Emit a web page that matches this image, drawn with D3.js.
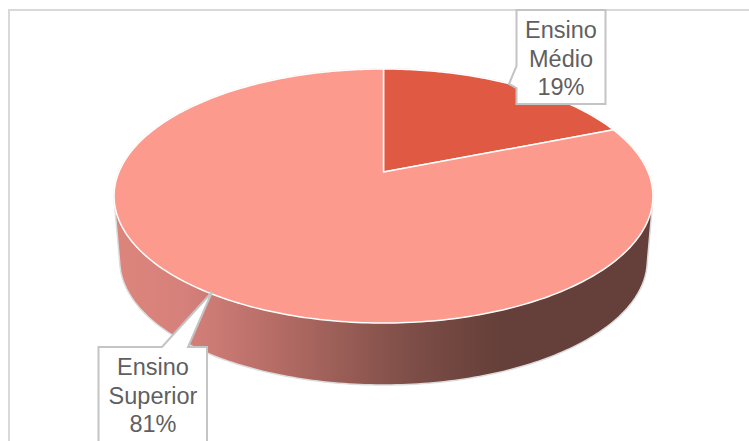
<!DOCTYPE html>
<html><head><meta charset="utf-8">
<script src="https://cdn.jsdelivr.net/npm/d3@7"></script>
<style>html,body{margin:0;padding:0;background:#fff}svg{display:block}</style>
</head><body><svg id="c" width="749" height="441"></svg>
<script>
const categories = ["Ensino Médio", "Ensino Superior"];
const values = [19, 81];
const sliceColors = ["#e05a43", "#fd9a8e"];
const labelLines = [["Ensino", "Médio", "19%"], ["Ensino", "Superior", "81%"]];

const svg = d3.select("#c");
const defs = svg.append("defs");
const grad = defs.append("linearGradient").attr("id", "wall").attr("gradientUnits", "userSpaceOnUse")
  .attr("x1", 118).attr("x2", 650).attr("y1", 0).attr("y2", 0);
[[0, "#dc857c"], [0.13, "#d5807a"], [0.3, "#b46c65"], [0.55, "#7d4e47"], [0.72, "#653f39"], [1, "#653f39"]]
  .forEach(d => grad.append("stop").attr("offset", d[0]).attr("stop-color", d[1]));

// chart frame: only the top and left edges fall inside the picture
svg.append("path").attr("d", "M9,441V10H749").attr("fill", "none")
  .attr("stroke", "#d9d9d9").attr("stroke-width", 2);

// perspective projection of a unit disc onto the page
const k = 0.189;
function project(theta, r, o) {
  const x = r * Math.sin(theta), v = r * Math.cos(theta), den = 1 + k * v;
  return [o.cx + o.a * x / den, o.cy - o.b * v / den];
}
const topDisc = { cx: 383.5, cy: 172, a: 264.6, b: 122.5 };
const botDisc = { cx: 383.5, cy: 237, a: 259, b: 120 };

const pie = d3.pie().sort(null).value(d => d);
const arcs = pie(values);
const line = d3.line();
const ringPts = (t0, t1, o) => {
  const n = Math.max(8, Math.ceil((t1 - t0) * 60));
  return d3.range(n + 1).map(i => project(t0 + (t1 - t0) * i / n, 1, o));
};

// wall: hull of top and bottom rims
const hull = d3.polygonHull(ringPts(0, 2 * Math.PI, topDisc).concat(ringPts(0, 2 * Math.PI, botDisc)));
svg.append("path").attr("d", line(hull) + "Z").attr("fill", "url(#wall)")
  .attr("stroke", "#dcdcdc").attr("stroke-width", 1.5).attr("stroke-linejoin", "round");

// top face
svg.selectAll("path.slice").data(arcs).join("path").attr("class", "slice")
  .attr("d", d => line([[topDisc.cx, topDisc.cy]].concat(ringPts(d.startAngle, d.endAngle, topDisc))) + "Z")
  .attr("fill", (d, i) => sliceColors[i])
  .attr("stroke", "#fff").attr("stroke-width", 1.5).attr("stroke-linejoin", "round");

// callouts
const boxes = [
  { x: 516.5, y: 10, w: 89, h: 94, tip: [509, 84], side: "left", tx: 561, ty: 38 },
  { x: 98.5, y: 347, w: 108.5, h: 110, tip: [212, 292], side: "top", tx: 153, ty: 375 }
];
boxes.forEach((b, i) => {
  const r = b.x + b.w, bot = b.y + b.h;
  const pts = b.side === "left"
    ? [[b.x, b.y], [r, b.y], [r, bot], [b.x, bot], [b.x, 88], b.tip, [b.x, 66]]
    : [[b.x, b.y], [162, b.y], b.tip, [188, b.y], [r, b.y], [r, bot], [b.x, bot]];
  svg.append("path").attr("d", line(pts) + "Z").attr("fill", "#fff")
    .attr("stroke", "#c4c4c4").attr("stroke-width", 2).attr("stroke-linejoin", "miter");
  svg.append("text").attr("text-anchor", "middle").attr("fill", "#5f5f5f")
    .style("font-family", "'Liberation Sans',Arial,sans-serif").style("font-size", "23.5px")
    .selectAll("tspan").data(labelLines[i]).join("tspan")
    .attr("x", b.tx).attr("y", (d, j) => b.ty + j * 28.5).text(d => d);
});
</script></body></html>
